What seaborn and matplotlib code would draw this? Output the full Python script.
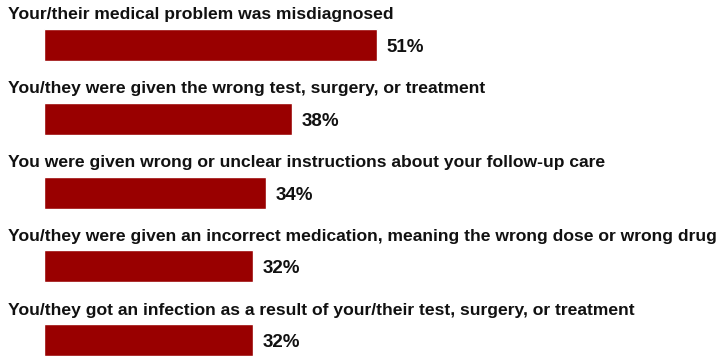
import matplotlib
matplotlib.use("Agg")
import matplotlib.pyplot as plt
import seaborn as sns
import pandas as pd

categories = [
    "Your/their medical problem was misdiagnosed",
    "You/they were given the wrong test, surgery, or treatment",
    "You were given wrong or unclear instructions about your follow-up care",
    "You/they were given an incorrect medication, meaning the wrong dose or wrong drug",
    "You/they got an infection as a result of your/their test, surgery, or treatment",
]
values = [51, 38, 34, 32, 32]
value_labels = ["51%", "38%", "34%", "32%", "32%"]

df = pd.DataFrame({"cat": categories, "val": values})

sns.set_theme(style="white")
plt.rcParams["font.family"] = ["Liberation Sans", "DejaVu Sans"]

fig = plt.figure(figsize=(7.21, 3.56), dpi=100)
ax = fig.add_axes([0, 0, 1, 1])
py = 73.75
sns.barplot(data=df, x="val", y="cat", color="#990000", width=32 / py,
            saturation=1, ax=ax, orient="h")

px_per_unit_x = 6.53
a = 44 / px_per_unit_x
ax.set_xlim(-a, -a + 721 / px_per_unit_x)
top = -45 / py
ax.set_ylim(top + 356 / py, top)

for i, (c, v, lab) in enumerate(zip(categories, values, value_labels)):
    ax.text(8 / 721, i - 25.5 / py, c, transform=ax.get_yaxis_transform(),
            ha="left", va="baseline", fontsize=12.6, fontweight="bold",
            color="#111111")
    ax.text(v + 9.5 / px_per_unit_x, i + 2.5 / py, lab, ha="left", va="center",
            fontsize=13.5, fontweight="bold", color="#111111")

ax.set_axis_off()
fig.savefig("out.png", dpi=100)
